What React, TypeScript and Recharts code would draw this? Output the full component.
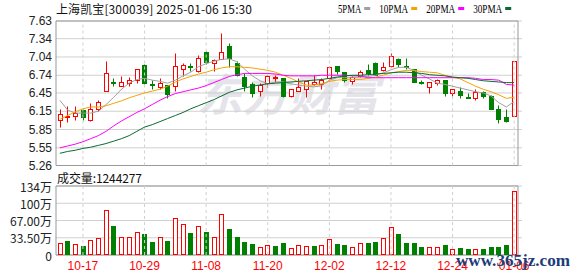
import {
  Bar,
  CartesianGrid,
  ComposedChart,
  Line,
  ReferenceArea,
  ReferenceLine,
  XAxis,
  YAxis,
} from "recharts"

const RED = "#ff0000"
const GREEN = "#008000"
const GRID = "#d0d0d0"
const FRAME = "#999999"

// 60 trading days, 2024-10-14 .. 2025-01-06
const dates = [
  "10-14", "10-15", "10-16", "10-17", "10-18", "10-21", "10-22", "10-23", "10-24", "10-25",
  "10-28", "10-29", "10-30", "10-31", "11-01", "11-04", "11-05", "11-06", "11-07", "11-08",
  "11-11", "11-12", "11-13", "11-14", "11-15", "11-18", "11-19", "11-20", "11-21", "11-22",
  "11-25", "11-26", "11-27", "11-28", "11-29", "12-02", "12-03", "12-04", "12-05", "12-06",
  "12-09", "12-10", "12-11", "12-12", "12-13", "12-16", "12-17", "12-18", "12-19", "12-20",
  "12-23", "12-24", "12-25", "12-26", "12-27", "12-30", "12-31", "01-02", "01-03", "01-06",
]

const openPrices = [
  6.01, 6.06, 6.07, 6.17, 6.01, 6.19, 6.49, 6.63, 6.57, 6.61,
  6.67, 6.91, 6.60, 6.55, 6.58, 6.56, 6.84, 6.90, 6.81, 7.12,
  6.94, 7.01, 7.22, 6.94, 6.71, 6.59, 6.48, 6.61, 6.70, 6.69,
  6.40, 6.48, 6.51, 6.60, 6.60, 6.69, 6.89, 6.79, 6.65, 6.73,
  6.82, 6.94, 6.82, 6.89, 7.00, 6.90, 6.84, 6.63, 6.55, 6.62,
  6.66, 6.45, 6.49, 6.38, 6.36, 6.46, 6.40, 6.18, 6.05, 6.08,
]
const highPrices = [
  6.18, 6.23, 6.24, 6.19, 6.29, 6.33, 6.97, 6.70, 6.72, 6.71,
  6.85, 6.92, 6.67, 6.70, 6.58, 7.10, 6.94, 6.94, 7.07, 7.14,
  7.00, 7.44, 7.27, 6.97, 6.78, 6.63, 6.62, 6.74, 6.74, 6.70,
  6.52, 6.69, 6.65, 6.74, 6.70, 6.89, 6.89, 6.79, 6.73, 6.82,
  6.93, 6.96, 6.96, 7.10, 7.03, 7.03, 6.85, 6.66, 6.63, 6.68,
  6.67, 6.51, 6.55, 6.45, 6.51, 6.48, 6.41, 6.26, 6.18, 6.98,
]
const lowPrices = [
  5.89, 5.98, 6.01, 6.01, 5.99, 6.15, 6.49, 6.56, 6.56, 6.57,
  6.61, 6.59, 6.51, 6.51, 6.37, 6.49, 6.72, 6.81, 6.80, 6.93,
  6.81, 7.01, 6.88, 6.72, 6.49, 6.38, 6.40, 6.55, 6.63, 6.38,
  6.38, 6.48, 6.38, 6.58, 6.52, 6.65, 6.76, 6.63, 6.59, 6.71,
  6.74, 6.74, 6.81, 6.87, 6.88, 6.85, 6.63, 6.59, 6.45, 6.58,
  6.40, 6.40, 6.36, 6.36, 6.33, 6.37, 6.18, 5.96, 5.97, 6.08,
]
const closePrices = [
  6.11, 6.08, 6.12, 6.05, 6.18, 6.30, 6.77, 6.61, 6.63, 6.66,
  6.84, 6.61, 6.58, 6.61, 6.43, 6.89, 6.91, 6.88, 7.03, 6.95,
  6.99, 7.12, 7.02, 6.74, 6.56, 6.45, 6.58, 6.73, 6.71, 6.40,
  6.52, 6.55, 6.64, 6.63, 6.66, 6.88, 6.81, 6.67, 6.71, 6.80,
  6.77, 6.75, 6.87, 7.05, 6.92, 6.88, 6.63, 6.61, 6.63, 6.66,
  6.45, 6.51, 6.41, 6.37, 6.47, 6.40, 6.19, 6.02, 5.99, 6.98,
]
const volumes = [
  227000, 272000, 207000, 175000, 285000, 324000, 868000, 563000, 343000, 343000,
  447000, 408000, 252000, 343000, 272000, 712000, 602000, 434000, 557000, 447000,
  343000, 796000, 505000, 350000, 259000, 214000, 155000, 188000, 175000, 233000,
  130000, 188000, 175000, 175000, 188000, 304000, 214000, 194000, 149000, 227000,
  233000, 252000, 324000, 538000, 408000, 233000, 233000, 155000, 149000, 149000,
  188000, 110000, 136000, 110000, 123000, 110000, 149000, 149000, 188000, 1244277,
]

const ma5 = [
  6.33, 6.17, 6.12, 6.12, 6.12, 6.15, 6.26, 6.38, 6.51, 6.61,
  6.67, 6.69, 6.66, 6.64, 6.61, 6.66, 6.73, 6.79, 6.88, 6.93,
  6.97, 7.00, 7.01, 6.96, 6.84, 6.73, 6.65, 6.60, 6.63, 6.63,
  6.60, 6.58, 6.56, 6.55, 6.57, 6.66, 6.70, 6.70, 6.70, 6.71,
  6.72, 6.74, 6.78, 6.83, 6.87, 6.87, 6.82, 6.74, 6.68, 6.61,
  6.59, 6.56, 6.53, 6.50, 6.47, 6.45, 6.40, 6.29, 6.22, 6.31,
]
const ma10 = [
  6.02, 6.08, 6.14, 6.19, 6.22, 6.22, 6.24, 6.28, 6.32, 6.37,
  6.41, 6.45, 6.48, 6.51, 6.56, 6.63, 6.68, 6.72, 6.76, 6.79,
  6.83, 6.86, 6.88, 6.88, 6.87, 6.86, 6.84, 6.82, 6.79, 6.74,
  6.69, 6.63, 6.58, 6.58, 6.60, 6.64, 6.66, 6.67, 6.67, 6.67,
  6.69, 6.71, 6.74, 6.78, 6.80, 6.82, 6.82, 6.80, 6.79, 6.78,
  6.74, 6.71, 6.68, 6.62, 6.56, 6.51, 6.47, 6.42, 6.36, 6.38,
]
const ma20 = [
  5.55, 5.58, 5.61, 5.65, 5.70, 5.75, 5.82, 5.91, 5.99, 6.06,
  6.13, 6.19, 6.26, 6.33, 6.39, 6.44, 6.47, 6.50, 6.53, 6.57,
  6.62, 6.67, 6.72, 6.75, 6.77, 6.77, 6.77, 6.77, 6.76, 6.74,
  6.73, 6.73, 6.73, 6.73, 6.74, 6.74, 6.74, 6.74, 6.73, 6.73,
  6.70, 6.70, 6.70, 6.70, 6.70, 6.70, 6.70, 6.70, 6.70, 6.70,
  6.70, 6.70, 6.70, 6.70, 6.69, 6.67, 6.67, 6.66, 6.59, 6.58,
]
const ma30 = [
  5.46, 5.49, 5.51, 5.54, 5.56, 5.59, 5.62, 5.66, 5.70, 5.75,
  5.82, 5.89, 5.93, 5.98, 6.03, 6.08, 6.13, 6.19, 6.24, 6.29,
  6.34, 6.40, 6.46, 6.50, 6.53, 6.56, 6.58, 6.60, 6.61, 6.62,
  6.63, 6.64, 6.65, 6.66, 6.67, 6.69, 6.71, 6.73, 6.74, 6.74,
  6.75, 6.76, 6.77, 6.78, 6.79, 6.79, 6.78, 6.77, 6.75, 6.74,
  6.73, 6.71, 6.70, 6.69, 6.67, 6.65, 6.64, 6.63, 6.62, 6.62,
]

const priceTicks = [5.26, 5.55, 5.85, 6.15, 6.45, 6.74, 7.04, 7.34, 7.63]
const volumeTicks = [0, 335000, 670000, 1005000, 1340000]
const volumeTickLabels = ["0", "33.50万", "67.00万", "100万", "134万"]
const labelDates = ["10-17", "10-29", "11-08", "11-20", "12-02", "12-12", "12-24", "01-06"]

const maSeries = [
  { key: "ma5", name: "5PMA", color: "#a0a0a0" },
  { key: "ma10", name: "10PMA", color: "#f5a300" },
  { key: "ma20", name: "20PMA", color: "#ff00ff" },
  { key: "ma30", name: "30PMA", color: "#0a6b32" },
]

const rows = dates.map((date, i) => ({
  date,
  open: openPrices[i],
  high: highPrices[i],
  low: lowPrices[i],
  close: closePrices[i],
  volume: volumes[i],
  // volume colour follows the change against the previous close
  volUp: i === 0 ? closePrices[0] >= openPrices[0] : closePrices[i] >= closePrices[i - 1],
  ma5: ma5[i],
  ma10: ma10[i],
  ma20: ma20[i],
  ma30: ma30[i],
}))

const SANS = "'Liberation Sans', Arial, sans-serif"
const CJK = "'Noto Sans CJK SC', 'Liberation Sans', sans-serif"

function Candle(props: any) {
  const { x, y, width, height, payload } = props
  const { open, close, high, low } = payload
  const top = Math.min(y, y + height)
  const h = Math.abs(height)
  const k = high > low ? h / (high - low) : 0
  const color = close >= open ? RED : GREEN
  const cx = Math.round(x + width / 2) + 0.5
  const wickTop = Math.round(top) + 0.5
  const wickBottom = Math.round(top + h) + 0.5
  const bt = Math.round(top + (high - Math.max(open, close)) * k) + 0.5
  const bb = Math.round(top + (high - Math.min(open, close)) * k) + 0.5
  return (
    <g>
      {bt > wickTop && <line x1={cx} x2={cx} y1={wickTop} y2={bt} stroke={color} />}
      {wickBottom > bb && <line x1={cx} x2={cx} y1={bb} y2={wickBottom} stroke={color} />}
      {bb - bt < 1 ? (
        <line x1={cx - 2.5} x2={cx + 2.5} y1={bt} y2={bt} stroke={color} />
      ) : (
        <rect x={cx - 2} y={bt} width={4} height={bb - bt} fill={close >= open ? "#fff" : color} stroke={color} />
      )}
    </g>
  )
}

function VolumeBar(props: any) {
  const { x, y, width, height, payload } = props
  const color = payload.volUp ? RED : GREEN
  const cx = Math.round(x + width / 2) + 0.5
  const top = Math.round(y) + 0.5
  const bottom = Math.round(y + height) - 0.5
  return (
    <rect
      x={cx - 2}
      y={top}
      width={4}
      height={Math.max(bottom - top, 0.5)}
      fill={payload.volUp ? "#fff" : color}
      stroke={color}
    />
  )
}

const PriceTick = ({ y, payload }: any) => (
  <text x={52} y={y} textAnchor="end" dominantBaseline="central" fontSize={12} fill="#222" fontFamily={SANS}>
    {payload.value.toFixed(2)}
  </text>
)

const VolumeTick = ({ y, payload }: any) => (
  <text x={52} y={y} textAnchor="end" dominantBaseline="central" fontSize={12} fill="#222" fontFamily={CJK}>
    {volumeTickLabels[volumeTicks.indexOf(payload.value)]}
  </text>
)

const DateTick = ({ x, payload }: any) => (
  <text x={x} y={266} textAnchor="middle" dominantBaseline="central" fontSize={12} fill={RED} fontFamily={SANS}>
    {payload.value}
  </text>
)

function LegendRow() {
  let cursor = 338
  return (
    <g>
      {maSeries.map((s) => {
        const w = s.name.length * 5.8
        const tx = cursor
        cursor = tx + w + 3 + 6 + 9
        return (
          <g key={s.key}>
            <text x={tx} y={8.5} dominantBaseline="central" fontSize={12} fontFamily="'Liberation Serif', serif" textLength={w} lengthAdjust="spacingAndGlyphs" fill="#000">
              {s.name}
            </text>
            <rect x={tx + w + 3} y={7} width={6} height={3} fill={s.color} />
          </g>
        )
      })}
    </g>
  )
}

const layer = { position: "absolute" as const, left: 0, top: 0 }

export default function App() {
  return (
    <div style={{ position: "absolute", left: 0, top: 0, width: 578, height: 276, background: "#fff", overflow: "hidden" }}>
      <svg width={578} height={276} style={layer}>
        <text
          x={197}
          y={92}
          dominantBaseline="central"
          fontSize={44}
          fontWeight="bold"
          fontStyle="italic"
          fontFamily={CJK}
          fill="#e4e4ea"
          textLength={182}
          lengthAdjust="spacingAndGlyphs"
        >
          东方财富
        </text>
      </svg>

      <div style={layer}>
        <ComposedChart width={578} height={276} data={rows} margin={{ top: 21, right: 56, bottom: 110.5, left: 0 }}>
          <CartesianGrid vertical={false} stroke={GRID} />
          <XAxis dataKey="date" hide padding={{ left: 0, right: 4 }} />
          <YAxis
            domain={[5.26, 7.63]}
            ticks={priceTicks}
            interval={0}
            width={56}
            axisLine={false}
            tickLine={false}
            tick={<PriceTick />}
            allowDataOverflow
          />
          {labelDates.map((d) => (
            <ReferenceLine key={d} x={d} stroke={GRID} strokeDasharray="3 3" />
          ))}
          {maSeries.map((s) => (
            <Line
              key={s.key}
              dataKey={s.key}
              type="linear"
              stroke={s.color}
              strokeWidth={1}
              dot={false}
              isAnimationActive={false}
            />
          ))}
          <Bar
            dataKey={(d: any) => [d.low, d.high]}
            barSize={5}
            shape={(p: any) => <Candle {...p} />}
            isAnimationActive={false}
          />
          <ReferenceArea y1={5.26} y2={7.63} fill="none" stroke={FRAME} ifOverflow="visible" />
        </ComposedChart>
      </div>

      <div style={layer}>
        <ComposedChart width={578} height={276} data={rows} margin={{ top: 186, right: 56, bottom: 0, left: 0 }}>
          <CartesianGrid vertical={false} stroke={GRID} />
          <XAxis
            dataKey="date"
            ticks={labelDates}
            interval={0}
            height={21}
            axisLine={false}
            tickLine={false}
            tick={<DateTick />}
            padding={{ left: 0, right: 4 }}
          />
          <YAxis
            domain={[0, 1340000]}
            ticks={volumeTicks}
            interval={0}
            width={56}
            axisLine={false}
            tickLine={false}
            tick={<VolumeTick />}
          />
          {labelDates.map((d) => (
            <ReferenceLine key={d} x={d} stroke={GRID} strokeDasharray="3 3" />
          ))}
          <Bar dataKey="volume" barSize={5} shape={(p: any) => <VolumeBar {...p} />} isAnimationActive={false} />
          <ReferenceArea y1={0} y2={1340000} fill="none" stroke={FRAME} ifOverflow="visible" />
        </ComposedChart>
      </div>

      <svg width={578} height={276} style={{ ...layer, pointerEvents: "none" }}>
        <text x={56} y={8.5} dominantBaseline="central" fontSize={12} fontFamily={CJK} fill="#111" textLength={196} lengthAdjust="spacing">
          上海凯宝[300039] 2025-01-06  15:30
        </text>
        <LegendRow />
        <text x={57} y={177} dominantBaseline="central" fontSize={12} fontFamily={CJK} fill="#111" textLength={85} lengthAdjust="spacing">
          成交量:1244277
        </text>
        <text
          x={456}
          y={266}
          fontSize={16}
          fontWeight="bold"
          fontFamily="'Liberation Serif', serif"
          fill="#1d3c78"
          textLength={114}
          lengthAdjust="spacingAndGlyphs"
        >
          www.365jz.com
        </text>
      </svg>
    </div>
  )
}
